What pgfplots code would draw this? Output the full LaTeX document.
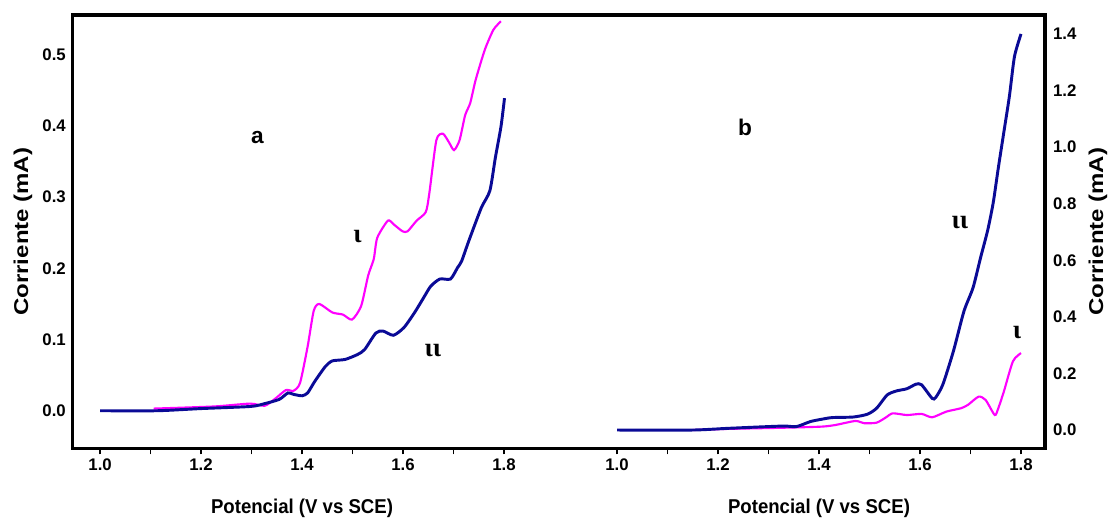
\documentclass[border=0pt]{standalone}
\usepackage{fontspec}
\setmainfont{Liberation Sans}
\newfontfamily\serifgr{Liberation Serif}
\usepackage{graphicx}
\usepackage{pgfplots}
\pgfplotsset{compat=1.18}
\definecolor{navy}{RGB}{10,10,150}
\definecolor{mag}{RGB}{255,0,255}

\pgfplotstableread{
x y
1.106 0.003
1.226 0.006
1.297 0.010
1.326 0.007
1.347 0.017
1.368 0.029
1.383 0.028
1.396 0.039
1.411 0.090
1.423 0.140
1.434 0.150
1.460 0.138
1.481 0.135
1.499 0.128
1.517 0.147
1.531 0.190
1.542 0.213
1.549 0.243
1.570 0.267
1.581 0.262
1.599 0.252
1.609 0.252
1.627 0.267
1.645 0.279
1.652 0.305
1.666 0.380
1.679 0.389
1.691 0.377
1.701 0.366
1.712 0.380
1.723 0.415
1.733 0.432
1.744 0.465
1.762 0.507
1.779 0.535
1.794 0.547
}\amag

\pgfplotstableread{
x y
1.000 0.000
1.113 0.000
1.199 0.003
1.298 0.006
1.326 0.010
1.355 0.016
1.372 0.025
1.383 0.023
1.400 0.021
1.411 0.025
1.425 0.041
1.446 0.062
1.460 0.070
1.485 0.072
1.510 0.079
1.524 0.086
1.546 0.109
1.560 0.112
1.581 0.106
1.602 0.117
1.623 0.138
1.641 0.159
1.655 0.175
1.673 0.185
1.694 0.185
1.708 0.201
1.716 0.210
1.730 0.238
1.755 0.285
1.772 0.309
1.783 0.356
1.794 0.399
1.801 0.439
}\ablue

\pgfplotstableread{
x y
1.000 0.000
1.150 0.000
1.220 0.006
1.327 0.014
1.355 0.012
1.383 0.030
1.405 0.038
1.426 0.044
1.468 0.046
1.496 0.056
1.514 0.077
1.535 0.124
1.553 0.138
1.574 0.146
1.592 0.162
1.603 0.160
1.624 0.112
1.631 0.115
1.645 0.160
1.666 0.278
1.687 0.420
1.705 0.503
1.720 0.610
1.734 0.706
1.745 0.804
1.755 0.926
1.766 1.053
1.777 1.180
1.787 1.320
1.800 1.400
}\bblue

\pgfplotstableread{
x y
1.150 0.000
1.220 0.004
1.327 0.008
1.405 0.012
1.433 0.018
1.472 0.032
1.490 0.024
1.514 0.026
1.532 0.044
1.546 0.059
1.574 0.053
1.603 0.057
1.624 0.045
1.652 0.065
1.681 0.077
1.695 0.089
1.716 0.118
1.730 0.106
1.748 0.053
1.755 0.077
1.766 0.136
1.784 0.243
1.800 0.272
}\bmag

\pgfplotsset{
  panel/.style={
    scale only axis, height=325pt,
    separate axis lines,
    axis x line*=box,
    axis line style={line width=2.6pt, black},
    every boxed x axis/.append style={line width=2.6pt},
    xtick={1.0,1.2,1.4,1.6,1.8},
    minor xtick={1.1,1.3,1.5,1.7},
    xtick pos=left,
    tick align=outside,
    major tick length=4.5pt, minor tick length=4.5pt,
    xtick style={line width=1.1pt, black},
    ytick style={draw=none},
    /pgf/number format/fixed,
    /pgf/number format/fixed zerofill,
    /pgf/number format/precision=1,
    /pgf/number format/assume math mode=true,
    tick label style={font=\bfseries\fontsize{12.6}{14}\selectfont},
    label style={font=\bfseries\fontsize{15}{17}\selectfont},
    clip=false,
  },
}

\begin{document}
\begin{tikzpicture}
\begin{axis}[panel, name=L,
  width=365.6pt,
  xmin=0.9454, xmax=1.9109,
  ymin=-0.0528, ymax=0.5558,
  ytick={0,0.1,0.2,0.3,0.4,0.5},
  axis y line*=left,
  yticklabel style={xshift=3pt},
  xlabel={\scalebox{0.93}[1]{Potencial (V vs SCE)}},
  xlabel style={at={(axis description cs:0.4708,-0.138)}, anchor=center},
  ylabel={\scalebox{1.2}[1]{Corriente (mA)}},
  ylabel style={at={(axis description cs:-0.1015,0.5)}, anchor=center, rotate=0},
]
\addplot[mag, line width=1.6pt, smooth, tension=0.4] table {\amag};
\addplot[navy, line width=2.2pt, smooth, tension=0.4] table {\ablue};
\draw[line width=2.6pt, line cap=rect] (rel axis cs:0,0) -- (rel axis cs:0,1);
\node[font=\bfseries\fontsize{17}{19}\selectfont] at (axis cs:1.3115,0.384) {a};
\node[font=\serifgr\bfseries\fontsize{20}{22}\selectfont] at (axis cs:1.510,0.244) {ι};
\node[font=\serifgr\bfseries\fontsize{20}{22}\selectfont] at (axis cs:1.659,0.085) {ιι};
\end{axis}
\begin{axis}[panel, name=R,
  at={(L.south east)}, anchor=south west,
  width=363.75pt,
  xmin=0.8871, xmax=1.8475,
  ymin=-0.0647, ymax=1.467,
  ytick={0,0.2,0.4,0.6,0.8,1.0,1.2,1.4},
  axis y line*=right,
  yticklabel style={xshift=-2pt},
  xlabel={\scalebox{0.93}[1]{Potencial (V vs SCE)}},
  xlabel style={at={(axis description cs:0.534,-0.138)}, anchor=center},
  ylabel={\scalebox{1.2}[1]{Corriente (mA)}},
  ylabel style={at={(axis description cs:1.109,0.5)}, anchor=center, rotate=0},
]
\addplot[mag, line width=1.6pt, smooth, tension=0.4] table {\bmag};
\addplot[navy, line width=2.2pt, smooth, tension=0.4] table {\bblue};
\draw[line width=2.6pt, line cap=rect] (rel axis cs:1,0) -- (rel axis cs:1,1);
\node[font=\bfseries\fontsize{17}{19}\selectfont] at (axis cs:1.2535,1.071) {b};
\node[font=\serifgr\bfseries\fontsize{20}{22}\selectfont] at (axis cs:1.679,0.735) {ιι};
\node[font=\serifgr\bfseries\fontsize{20}{22}\selectfont] at (axis cs:1.792,0.343) {ι};
\end{axis}
\pgfresetboundingbox
\path[use as bounding box] ([shift={(-54.4pt,-53.8pt)}]L.south west) rectangle ([shift={(48.75pt,11.25pt)}]R.north east);
\end{tikzpicture}
\end{document}
